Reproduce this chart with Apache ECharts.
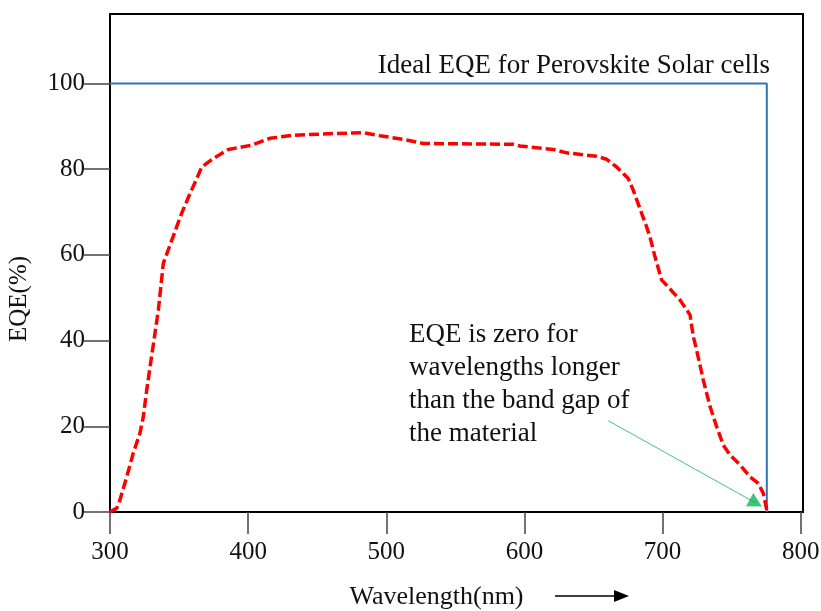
<!DOCTYPE html>
<html>
<head>
<meta charset="utf-8">
<script src="https://cdn.jsdelivr.net/npm/echarts@6/dist/echarts.min.js"></script>
<style>
  html, body { margin: 0; padding: 0; background: #fff; }
  #chart { width: 821px; height: 611px; }
</style>
</head>
<body>
<div id="chart"></div>
<script>
// measured EQE curve (wavelength in nm, EQE in %)
const wavelength = [300, 304.9, 307.2, 312.1, 316.9, 321.7, 324.1, 326.6, 329.0, 332.6, 335.0, 338.6, 344.7, 351.9,
  357.4, 362.8, 366.4, 374.8, 385.6, 402.6, 415.8, 432.7, 461.6, 483.4, 495.5, 514.8, 526.8, 591.9, 596.8, 620.9,
  630.6, 652.3, 659.6, 666.8, 675.2, 678.8, 688.5, 690.9, 694.5, 699.4, 703.0, 712.6, 719.9, 722.3, 724.7, 729.5,
  734.4, 739.2, 744.0, 748.9, 756.1, 763.3, 769.3, 772.9, 775.8]
const eqe = [0, 0.9, 2.8, 8.2, 13.8, 18.4, 22.2, 28.5, 33.9, 41.8, 47.1, 58.0, 63.4, 69.7,
  73.9, 77.8, 80.5, 82.5, 84.6, 85.6, 87.2, 87.9, 88.3, 88.5, 87.8, 86.8, 86.0, 85.8, 85.4, 84.6,
  83.8, 83.0, 82.3, 80.5, 77.8, 75.1, 66.5, 64.2, 59.6, 54.1, 52.9, 49.5, 46.0, 40.9, 37.8, 30.8,
  24.6, 19.9, 15.6, 13.3, 11.0, 8.2, 6.7, 4.4, 0]

// ideal step response
const idealX = [300, 775.5, 775.5]
const idealY = [100, 100, 0]

const xTicks = [300, 400, 500, 600, 700, 800]
const yTicks = [0, 20, 40, 60, 80, 100]

// green arrow: text -> band edge
const arrowFrom = [660.7, 21.3]
const arrowTo = [767.5, 2.1]

const font = "'Liberation Serif', 'Times New Roman', serif"

const chart = echarts.init(document.getElementById('chart'))

chart.setOption({
  animation: false,
  grid: {
    left: 110,
    right: 18,
    top: 14,
    bottom: 99,
    outerBoundsMode: 'none',
    show: true,
    borderColor: '#000',
    borderWidth: 2
  },
  xAxis: {
    type: 'value',
    min: 300,
    max: 801.7,
    name: 'Wavelength(nm)',
    nameLocation: 'middle',
    nameGap: 72,
    nameTextStyle: { fontFamily: font, fontSize: 26, color: '#111', padding: [0, 40, 0, 0] },
    splitLine: { show: false },
    axisLine: { lineStyle: { color: '#000', width: 2 } },
    axisTick: { customValues: xTicks, length: 22, lineStyle: { color: '#444', width: 1.5 } },
    axisLabel: { customValues: xTicks, margin: 28, fontFamily: font, fontSize: 25, color: '#111' }
  },
  yAxis: {
    type: 'value',
    min: 0,
    max: 116.2,
    name: 'EQE(%)',
    nameLocation: 'middle',
    nameGap: 78,
    nameRotate: 90,
    nameTextStyle: { fontFamily: font, fontSize: 25, color: '#111', padding: [0, 72, 0, 0] },
    splitLine: { show: false },
    axisLine: { lineStyle: { color: '#000', width: 2 } },
    axisTick: { customValues: yTicks, length: 26, lineStyle: { color: '#444', width: 1.5 } },
    axisLabel: { customValues: yTicks, margin: 25, fontFamily: font, fontSize: 25, color: '#111' }
  },
  series: [
    {
      name: 'Ideal',
      type: 'line',
      data: idealX.map((x, i) => [x, idealY[i]]),
      showSymbol: false,
      lineStyle: { color: '#2e75b6', width: 2 },
      z: 2
    },
    {
      name: 'EQE',
      type: 'line',
      data: wavelength.map((x, i) => [x, eqe[i]]),
      showSymbol: false,
      lineStyle: { color: '#ff0000', width: 3.5, type: [10, 4] },
      z: 3,
      markLine: {
        silent: true,
        symbol: ['none', 'triangle'],
        symbolSize: [15, 14],
        label: { show: false },
        lineStyle: { color: '#00b050', width: 1, type: 'solid', opacity: 0.75 },
        itemStyle: { color: '#00b050' },
        data: [[{ coord: arrowFrom }, { coord: arrowTo }]]
      }
    }
  ],
  graphic: [
    {
      type: 'text',
      x: 770,
      y: 79,
      style: {
        text: 'Ideal EQE for Perovskite Solar cells',
        fontFamily: font, fontSize: 27, fill: '#111',
        align: 'right', verticalAlign: 'bottom'
      }
    },
    {
      type: 'text',
      x: 409,
      y: 318,
      style: {
        text: 'EQE is zero for\nwavelengths longer\nthan the band gap of\nthe material',
        fontFamily: font, fontSize: 27, lineHeight: 33, fill: '#111',
        align: 'left', verticalAlign: 'top'
      }
    },
    {
      type: 'line',
      shape: { x1: 555, y1: 596, x2: 616, y2: 596 },
      style: { stroke: '#000', lineWidth: 1.5 }
    },
    {
      type: 'polygon',
      shape: { points: [[614, 590], [629, 596], [614, 602]] },
      style: { fill: '#000' }
    }
  ]
})
</script>
</body>
</html>
